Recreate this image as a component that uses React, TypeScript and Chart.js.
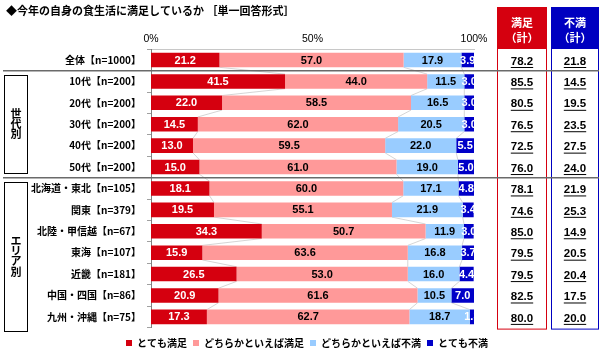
import React, { useEffect, useRef } from 'react';
import { Chart, registerables } from 'chart.js';

Chart.register(...registerables);

const categories = [
  '全体【n=1000】',
  '10代【n=200】',
  '20代【n=200】',
  '30代【n=200】',
  '40代【n=200】',
  '50代【n=200】',
  '北海道・東北【n=105】',
  '関東【n=379】',
  '北陸・甲信越【n=67】',
  '東海【n=107】',
  '近畿【n=181】',
  '中国・四国【n=86】',
  '九州・沖縄【n=75】',
];
const verySatisfied = [21.2, 41.5, 22.0, 14.5, 13.0, 15.0, 18.1, 19.5, 34.3, 15.9, 26.5, 20.9, 17.3];
const somewhatSatisfied = [57.0, 44.0, 58.5, 62.0, 59.5, 61.0, 60.0, 55.1, 50.7, 63.6, 53.0, 61.6, 62.7];
const somewhatDissatisfied = [17.9, 11.5, 16.5, 20.5, 22.0, 19.0, 17.1, 21.9, 11.9, 16.8, 16.0, 10.5, 18.7];
const veryDissatisfied = [3.9, 3.0, 3.0, 3.0, 5.5, 5.0, 4.8, 3.4, 3.0, 3.7, 4.4, 7.0, 1.3];
const satisfiedTotal = ['78.2', '85.5', '80.5', '76.5', '72.5', '76.0', '78.1', '74.6', '85.0', '79.5', '79.5', '82.5', '80.0'];
const dissatisfiedTotal = ['21.8', '14.5', '19.5', '23.5', '27.5', '24.0', '21.9', '25.3', '14.9', '20.5', '20.4', '17.5', '20.0'];
const seriesNames = ['とても満足', 'どちらかといえば満足', 'どちらかといえば不満', 'とても不満'];
const xTickValues = [0, 50, 100];
const titleText = '◆今年の自身の食生活に満足しているか ［単一回答形式］';
const tableHeaders = [
  ['満足', '（計）'],
  ['不満', '（計）'],
];
const groupLabels = ['世代別', 'エリア別'];
const groupRanges = [
  [1, 5],
  [6, 12],
];
const separatorsAfter = [0, 5];

const COLORS = ['#D5000F', '#FF9999', '#99CCFF', '#0000C8'];
const LABEL_COLORS = ['#FFFFFF', '#000000', '#000000', '#FFFFFF'];
const JP = '"Noto Sans CJK JP", "Noto Sans", sans-serif';
const NUM = '"Liberation Sans", Arial, sans-serif';

const decorPlugin = {
  id: 'decor',
  beforeDatasetsDraw(chart: any) {
    const { ctx } = chart;
    // series lines
    ctx.save();
    ctx.strokeStyle = '#B8B8B8';
    ctx.lineWidth = 0.6;
    for (let d = 0; d < 3; d++) {
      const meta = chart.getDatasetMeta(d);
      for (let i = 0; i < meta.data.length - 1; i++) {
        const a = meta.data[i];
        const b = meta.data[i + 1];
        ctx.beginPath();
        ctx.moveTo(a.x, a.y + a.height / 2);
        ctx.lineTo(b.x, b.y - b.height / 2);
        ctx.stroke();
      }
    }
    ctx.restore();
  },
  afterDatasetsDraw(chart: any) {
    const { ctx, chartArea } = chart;
    const yScale = chart.scales.y;
    const rowH = yScale.getPixelForValue(1) - yScale.getPixelForValue(0);

    // bar value labels
    ctx.save();
    ctx.font = `bold 11px ${NUM}`;
    ctx.textAlign = 'center';
    ctx.textBaseline = 'middle';
    chart.data.datasets.forEach((ds: any, d: number) => {
      const meta = chart.getDatasetMeta(d);
      meta.data.forEach((el: any, i: number) => {
        ctx.fillStyle = LABEL_COLORS[d];
        ctx.fillText(ds.data[i].toFixed(1), (el.x + el.base) / 2, el.y + 0.5);
      });
    });
    ctx.restore();

    // title
    ctx.save();
    ctx.font = `bold 11px ${JP}`;
    ctx.fillStyle = '#000';
    ctx.textAlign = 'left';
    ctx.textBaseline = 'middle';
    ctx.fillText(titleText, 6, 11);
    ctx.restore();

    // table columns
    const cols = [
      { x0: 497, x1: 547, color: '#D5000F', values: satisfiedTotal },
      { x0: 551, x1: 599, color: '#0000C0', values: dissatisfiedTotal },
    ];
    const top = 7;
    const headerBottom = 49;
    const bottom = chartArea.bottom + 1;
    cols.forEach((c, k) => {
      ctx.save();
      ctx.fillStyle = c.color;
      ctx.fillRect(c.x0, top, c.x1 - c.x0, headerBottom - top);
      ctx.strokeStyle = c.color;
      ctx.lineWidth = 1;
      ctx.strokeRect(c.x0 + 0.5, top + 0.5, c.x1 - c.x0 - 1, bottom - top);
      const cx = (c.x0 + c.x1) / 2;
      ctx.fillStyle = '#FFFFFF';
      ctx.font = `bold 11px ${JP}`;
      ctx.textAlign = 'center';
      ctx.textBaseline = 'middle';
      ctx.fillText(tableHeaders[k][0], cx, 23);
      ctx.fillText(tableHeaders[k][1], cx, 38);
      ctx.fillStyle = '#000';
      ctx.strokeStyle = '#000';
      ctx.font = `bold 11.5px ${NUM}`;
      c.values.forEach((v, i) => {
        const y = yScale.getPixelForValue(i) + 1.5;
        ctx.fillText(v, cx, y);
        const w = ctx.measureText(v).width;
        ctx.beginPath();
        ctx.moveTo(cx - w / 2, y + 6);
        ctx.lineTo(cx + w / 2, y + 6);
        ctx.stroke();
      });
      ctx.restore();
    });

    // separators
    ctx.save();
    ctx.strokeStyle = '#6A6A6A';
    ctx.lineWidth = 1.5;
    separatorsAfter.forEach((i) => {
      const y = yScale.getPixelForValue(i) + rowH / 2;
      ctx.beginPath();
      ctx.moveTo(3, y);
      ctx.lineTo(599, y);
      ctx.stroke();
    });
    ctx.restore();

    // group boxes
    ctx.save();
    ctx.strokeStyle = '#000';
    ctx.lineWidth = 1;
    ctx.font = `bold 11px ${JP}`;
    ctx.fillStyle = '#000';
    ctx.textAlign = 'center';
    ctx.textBaseline = 'middle';
    groupRanges.forEach(([from, to], g) => {
      const y0 = yScale.getPixelForValue(from) - rowH / 2 + 4;
      const isLast = to === categories.length - 1;
      const y1 = isLast ? chartArea.bottom + 3 : yScale.getPixelForValue(to) + rowH / 2 - 5;
      ctx.strokeRect(4.5, Math.round(y0) + 0.5, 23, Math.round(y1 - y0));
      const chars = Array.from(groupLabels[g]);
      const step = 10.2;
      const mid = (y0 + y1) / 2;
      chars.forEach((ch, j) => {
        ctx.fillText(ch, 16, mid + (j - (chars.length - 1) / 2) * step);
      });
    });
    ctx.restore();
  },
};

export default function App() {
  const ref = useRef<HTMLCanvasElement | null>(null);
  useEffect(() => {
    const canvas = ref.current;
    if (!canvas) return;
    const seriesData = [verySatisfied, somewhatSatisfied, somewhatDissatisfied, veryDissatisfied];
    const chart = new Chart(canvas, {
      type: 'bar',
      data: {
        labels: categories,
        datasets: seriesData.map((d, k) => ({
          label: seriesNames[k],
          data: d,
          backgroundColor: COLORS[k],
          borderWidth: 0,
          barPercentage: 0.68,
          categoryPercentage: 1,
        })),
      },
      options: {
        indexAxis: 'y',
        responsive: false,
        animation: false,
        devicePixelRatio: 1,
        layout: { padding: { left: 14, right: 0, top: 33, bottom: -2 } },
        scales: {
          x: {
            type: 'linear',
            position: 'top',
            stacked: true,
            min: 0,
            max: 100,
            afterBuildTicks: (s: any) => {
              s.ticks = xTickValues.map((v) => ({ value: v }));
            },
            afterFit: (s: any) => {
              s.height = 16.3;
            },
            ticks: {
              callback: (v: any) => `${v}%`,
              font: { family: NUM, size: 10.5 },
              color: '#000',
              padding: 4,
              maxRotation: 0,
            },
            grid: { display: false, drawTicks: false },
            border: { display: true, color: '#C8C8C8', width: 1 },
          },
          y: {
            type: 'category',
            stacked: true,
            afterFit: (s: any) => {
              s.width = 137;
            },
            ticks: {
              font: { family: JP, size: 10, weight: 'bold' },
              color: '#000',
              padding: 6,
            },
            grid: {
              drawOnChartArea: false,
              drawTicks: true,
              tickLength: 4,
              offset: true,
              color: '#A0A0A0',
            },
            border: { display: true, color: '#808080', width: 1 },
          },
          yRight: {
            type: 'category',
            position: 'right',
            display: true,
            afterFit: (s: any) => {
              s.width = 126;
            },
            ticks: { display: false },
            grid: { display: false, drawTicks: false },
            border: { display: false },
          },
        },
        plugins: {
          legend: {
            position: 'bottom',
            title: { display: true, text: ' ', font: { size: 2 }, padding: { top: 0, bottom: 2 } },
            labels: {
              boxWidth: 6,
              boxHeight: 6,
              padding: 6,
              color: '#000',
              font: { family: JP, size: 10, weight: 'bold' },
            },
          },
          tooltip: { enabled: false },
          title: { display: false },
        },
      },
      plugins: [decorPlugin],
    } as any);
    return () => chart.destroy();
  }, []);
  return (
    <div style={{ position: 'fixed', left: 0, top: 0, width: 600, height: 356, background: '#fff' }}>
      <canvas ref={ref} width={600} height={356} style={{ display: 'block', width: 600, height: 356 }} />
    </div>
  );
}
